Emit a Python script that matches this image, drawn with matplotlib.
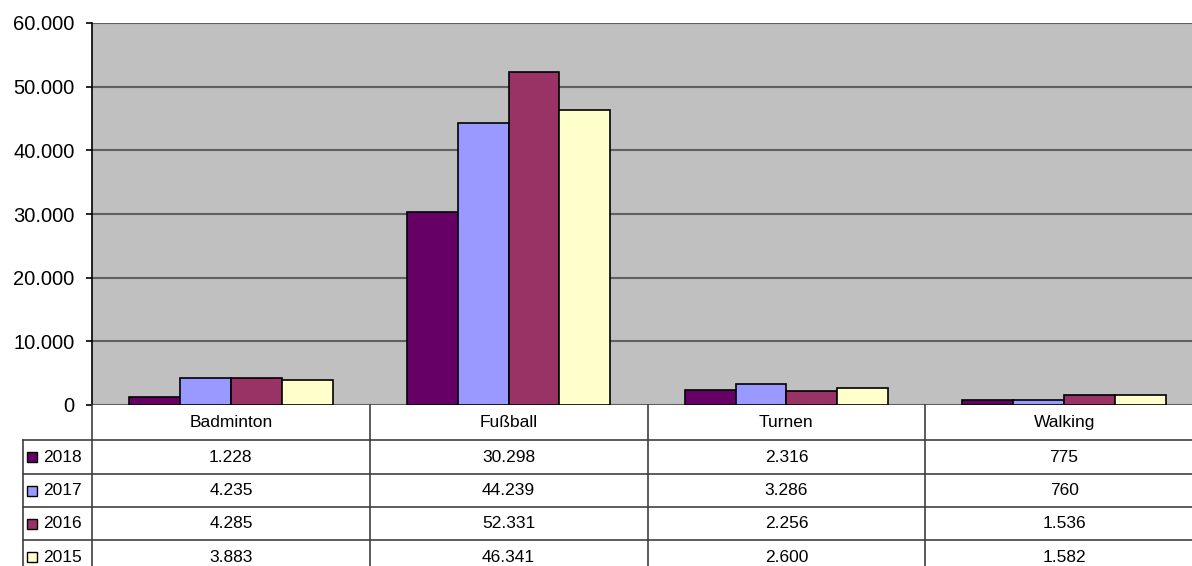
import numpy as np
import matplotlib.pyplot as plt
from matplotlib.patches import Rectangle
from matplotlib.transforms import blended_transform_factory

plt.rcParams["font.family"] = ["Liberation Sans", "DejaVu Sans"]

categories = ["Badminton", "Fußball", "Turnen", "Walking"]
years = ["2018", "2017", "2016", "2015"]
v2018 = [1228, 30298, 2316, 775]
v2017 = [4235, 44239, 3286, 760]
v2016 = [4285, 52331, 2256, 1536]
v2015 = [3883, 46341, 2600, 1582]
series = [v2018, v2017, v2016, v2015]
colors = ["#660066", "#9999FF", "#993366", "#FFFFCC"]
yticks = [0, 10000, 20000, 30000, 40000, 50000, 60000]


def de_fmt(v):
    return f"{v:,}".replace(",", ".")


W, H = 1192, 566
fig = plt.figure(figsize=(W / 100, H / 100), dpi=100)
# plot area runs a little past the right edge of the picture
ax = fig.add_axes([92 / W, (H - 405) / H, 1111 / W, 382 / H])
ax.set_facecolor("#C0C0C0")

x = np.arange(len(categories))
bw = 0.183
for i, vals in enumerate(series):
    ax.bar(x + (i - 1.5) * bw, vals, bw, color=colors[i],
           edgecolor="black", linewidth=1.2, zorder=3)

ax.set_xlim(-0.5, len(categories) - 0.5)
ax.set_ylim(0, 60000)
ax.set_yticks(yticks)
ax.set_yticklabels([de_fmt(v) for v in yticks])
ax.set_xticks([])
ax.yaxis.grid(True, color="#606060", linewidth=1.5, zorder=0)
ax.set_axisbelow(True)
for s in ["top", "right", "bottom"]:
    ax.spines[s].set_visible(False)
ax.spines["left"].set_color("black")
ax.spines["left"].set_linewidth(1.2)
ax.tick_params(axis="y", length=4.5, width=1.2, pad=8, labelsize=14.5)

# data table below the chart
def fy(py):
    return (H - py) / H

line_kw = dict(color="#404040", linewidth=1.2, clip_on=False)
bt = blended_transform_factory(ax.transData, fig.transFigure)
rows = [405, 440, 474, 507, 540, 574]

for py in rows[1:-1]:
    fig.add_artist(plt.Line2D([23 / W, 1], [fy(py), fy(py)],
                              transform=fig.transFigure, **line_kw))
fig.add_artist(plt.Line2D([23 / W, 23 / W], [fy(440), 0],
                          transform=fig.transFigure, **line_kw))
fig.add_artist(plt.Line2D([92 / W, 92 / W], [fy(405), 0],
                          transform=fig.transFigure, **line_kw))
for b in x[:-1] + 0.5:
    fig.add_artist(plt.Line2D([b, b], [fy(405), 0], transform=bt, **line_kw))

for j, cat in enumerate(categories):
    fig.text(j, fy((rows[0] + rows[1]) / 2), cat, transform=bt,
             ha="center", va="center", fontsize=12.5)
    for i, vals in enumerate(series):
        yc = fy((rows[i + 1] + rows[i + 2]) / 2)
        fig.text(j, yc, de_fmt(vals[j]), transform=bt,
                 ha="center", va="center", fontsize=12.5)

for i, yr in enumerate(years):
    yc = (rows[i + 1] + rows[i + 2]) / 2
    fig.add_artist(Rectangle((27 / W, fy(yc + 5)), 10 / W, 10 / H,
                             facecolor=colors[i], edgecolor="black",
                             linewidth=1.0, transform=fig.transFigure))
    fig.text(43 / W, fy(yc), yr, ha="left", va="center", fontsize=12.5)

fig.savefig("out.png", dpi=100)
